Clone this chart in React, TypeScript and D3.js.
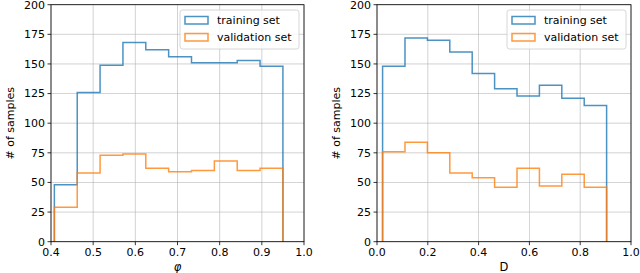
import React from "react";
import * as d3 from "d3";

const phiEdgesRange = [0.408, 0.95];
const phiTraining = [48, 126, 149, 168, 162, 156, 151, 151, 153, 148];
const phiValidation = [29, 58, 73, 74, 62, 59, 60, 68, 60, 62];
const phiTicks = [0.4, 0.5, 0.6, 0.7, 0.8, 0.9, 1.0];

const dEdgesRange = [0.022, 0.904];
const dTraining = [148, 172, 170, 160, 142, 129, 123, 132, 121, 115];
const dValidation = [76, 84, 75, 58, 54, 46, 62, 47, 57, 46];
const dTicks = [0.0, 0.2, 0.4, 0.6, 0.8, 1.0];

const yTicks = [0, 25, 50, 75, 100, 125, 150, 175, 200];
const seriesNames = ["training set", "validation set"];
const colors = ["#1f77b4", "#ff7f0e"];

const FONT = "DejaVu Sans, sans-serif";

type PanelProps = {
  x0: number;
  x1: number;
  domain: [number, number];
  ticks: number[];
  edgesRange: number[];
  series: number[][];
  xLabel: string;
  italicLabel?: boolean;
};

function Panel({ x0, x1, domain, ticks, edgesRange, series, xLabel, italicLabel }: PanelProps) {
  const yTop = 4.7;
  const yBot = 241.7;
  const x = d3.scaleLinear().domain(domain).range([x0, x1]);
  const y = d3.scaleLinear().domain([0, 200]).range([yBot, yTop]);

  const stepPath = (vals: number[]) => {
    const n = vals.length;
    const w = (edgesRange[1] - edgesRange[0]) / n;
    const pts: [number, number][] = [];
    pts.push([edgesRange[0], 0]);
    vals.forEach((v, i) => {
      pts.push([edgesRange[0] + i * w, v]);
      pts.push([edgesRange[0] + (i + 1) * w, v]);
    });
    pts.push([edgesRange[1], 0]);
    return d3.line<[number, number]>().x((d) => x(d[0])).y((d) => y(d[1]))(pts) || "";
  };

  const fmt = (t: number) => t.toFixed(1);
  const legX = x1 - 124;
  const legY = 10;

  return (
    <g>
      {ticks.map((t) => (
        <line key={"gx" + t} x1={x(t)} x2={x(t)} y1={yTop} y2={yBot} stroke="#b0b0b0" strokeWidth={0.8} opacity={0.7} />
      ))}
      {yTicks.map((t) => (
        <line key={"gy" + t} x1={x0} x2={x1} y1={y(t)} y2={y(t)} stroke="#b0b0b0" strokeWidth={0.8} opacity={0.7} />
      ))}
      {series.map((vals, i) => (
        <path key={"s" + i} d={stepPath(vals)} fill="none" stroke={colors[i]} strokeWidth={1.5} strokeOpacity={0.8} strokeLinejoin="miter" />
      ))}
      <rect x={x0} y={yTop} width={x1 - x0} height={yBot - yTop} fill="none" stroke="#000" strokeWidth={0.8} />
      {ticks.map((t) => (
        <g key={"tx" + t}>
          <line x1={x(t)} x2={x(t)} y1={yBot} y2={yBot + 3.5} stroke="#000" strokeWidth={0.8} />
          <text x={x(t)} y={yBot + 14.5} textAnchor="middle" fontSize={11} fontFamily={FONT} fill="#000">
            {fmt(t)}
          </text>
        </g>
      ))}
      {yTicks.map((t) => (
        <g key={"ty" + t}>
          <line x1={x0 - 3.5} x2={x0} y1={y(t)} y2={y(t)} stroke="#000" strokeWidth={0.8} />
          <text x={x0 - 6} y={y(t)} dy="0.35em" textAnchor="end" fontSize={11} fontFamily={FONT} fill="#000">
            {t}
          </text>
        </g>
      ))}
      <text
        x={(x0 + x1) / 2}
        y={270.5}
        textAnchor="middle"
        fontSize={11.5}
        fontFamily={FONT}
        fontStyle={italicLabel ? "italic" : "normal"}
        fill="#000"
      >
        {xLabel}
      </text>
      <text
        transform={`translate(${x0 - 37},${(yTop + yBot) / 2}) rotate(-90)`}
        textAnchor="middle"
        fontSize={11}
        fontFamily={FONT}
        fill="#000"
      >
        # of samples
      </text>
      <rect x={legX} y={legY} width={119} height={39} rx={2.5} fill="#fff" fillOpacity={0.8} stroke="#cccccc" strokeWidth={0.8} />
      {seriesNames.map((name, i) => (
        <g key={"l" + i}>
          <rect x={legX + 5} y={legY + 6.5 + i * 17} width={23} height={7.5} fill="none" stroke={colors[i]} strokeWidth={1.5} strokeOpacity={0.8} />
          <text x={legX + 37} y={legY + 10.5 + i * 17} dy="0.35em" fontSize={11} fontFamily={FONT} fill="#000">
            {name}
          </text>
        </g>
      ))}
    </g>
  );
}

export default function App() {
  return (
    <svg width={640} height={273} style={{ position: "absolute", left: 0, top: 0, background: "#fff" }}>
      <Panel
        x0={51}
        x1={304}
        domain={[0.4, 1.0]}
        ticks={phiTicks}
        edgesRange={phiEdgesRange}
        series={[phiTraining, phiValidation]}
        xLabel="φ"
        italicLabel
      />
      <Panel
        x0={377}
        x1={631}
        domain={[0, 1.0]}
        ticks={dTicks}
        edgesRange={dEdgesRange}
        series={[dTraining, dValidation]}
        xLabel="D"
      />
    </svg>
  );
}
